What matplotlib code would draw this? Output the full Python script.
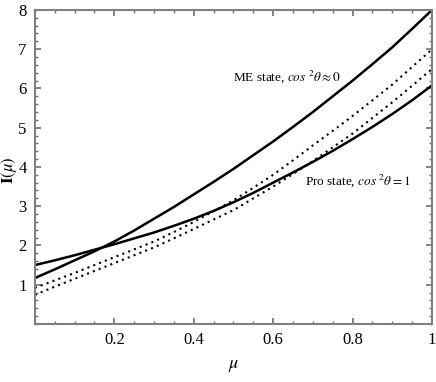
import numpy as np
import matplotlib.pyplot as plt
from matplotlib.ticker import MultipleLocator, FixedLocator

plt.rcParams['font.family'] = ['Liberation Serif', 'DejaVu Serif']
plt.rcParams['mathtext.fontset'] = 'stix'

# values
mu = [0.0, 0.05, 0.1, 0.15, 0.2, 0.25, 0.3, 0.35, 0.4, 0.45, 0.5,
      0.55, 0.6, 0.65, 0.7, 0.75, 0.8, 0.85, 0.9, 0.95, 1.0]
me_solid = [1.17, 1.39, 1.62, 1.85, 2.1, 2.38, 2.68, 2.98, 3.3, 3.62, 3.95,
            4.3, 4.65, 5.02, 5.4, 5.8, 6.2, 6.62, 7.05, 7.52, 8.0]
pro_solid = [1.5, 1.62, 1.75, 1.89, 2.03, 2.18, 2.33, 2.5, 2.68, 2.88, 3.1,
             3.34, 3.6, 3.86, 4.13, 4.41, 4.71, 5.02, 5.35, 5.7, 6.08]
me_dotted = [0.92, 1.11, 1.3, 1.5, 1.7, 1.9, 2.1, 2.34, 2.6, 2.87, 3.15,
             3.47, 3.8, 4.17, 4.55, 4.92, 5.3, 5.7, 6.1, 6.55, 7.0]
pro_dotted = [0.74, 0.95, 1.15, 1.35, 1.55, 1.75, 1.95, 2.18, 2.42, 2.66, 2.9,
              3.2, 3.5, 3.82, 4.15, 4.5, 4.85, 5.25, 5.65, 6.07, 6.5]

x_ticks = [0.2, 0.4, 0.6, 0.8, 1.0]
x_labels = ['0.2', '0.4', '0.6', '0.8', '1']
y_ticks = [1, 2, 3, 4, 5, 6, 7, 8]

fig = plt.figure(figsize=(4.36, 3.82), dpi=100)
ax = fig.add_axes([0.080, 0.152, 0.911, 0.822])

ax.plot(mu, me_solid, color='black', linewidth=1.8)
ax.plot(mu, pro_solid, color='black', linewidth=1.8)
ax.plot(mu, me_dotted, color='black', linestyle=(0, (1, 2)), linewidth=1.5)
ax.plot(mu, pro_dotted, color='black', linestyle=(0, (1, 2)), linewidth=1.5)

ax.set_xlim(0, 1)
ax.set_ylim(0, 8)
ax.xaxis.set_major_locator(FixedLocator(x_ticks))
ax.set_xticklabels(x_labels)
ax.xaxis.set_minor_locator(MultipleLocator(0.05))
ax.yaxis.set_major_locator(FixedLocator(y_ticks))
ax.yaxis.set_minor_locator(MultipleLocator(0.2))

ax.tick_params(which='both', direction='in', top=True, right=True,
               color='#707070', labelsize=12, pad=6)
ax.tick_params(which='major', length=4, width=1.2)
ax.tick_params(which='minor', length=2.5, width=1.0)
for s in ax.spines.values():
    s.set_color('#808080')
    s.set_linewidth(1.5)

ax.set_xlabel(r'$\mu$', fontsize=13, labelpad=6)
ax.set_ylabel(r'$\mathbf{I}(\mu)$', fontsize=12)
ax.yaxis.set_label_coords(-0.04, 0.49)

ax.text(0.5, 6.2, r'ME state, $\mathit{cos}\ ^{2}\theta \approx \mathit{0}$',
        fontsize=9.5)
ax.text(0.68, 3.55, r'Pro state, $\mathit{cos}\ ^{2}\theta = \mathit{1}$',
        fontsize=9.5)

fig.savefig('out.png', dpi=100)
